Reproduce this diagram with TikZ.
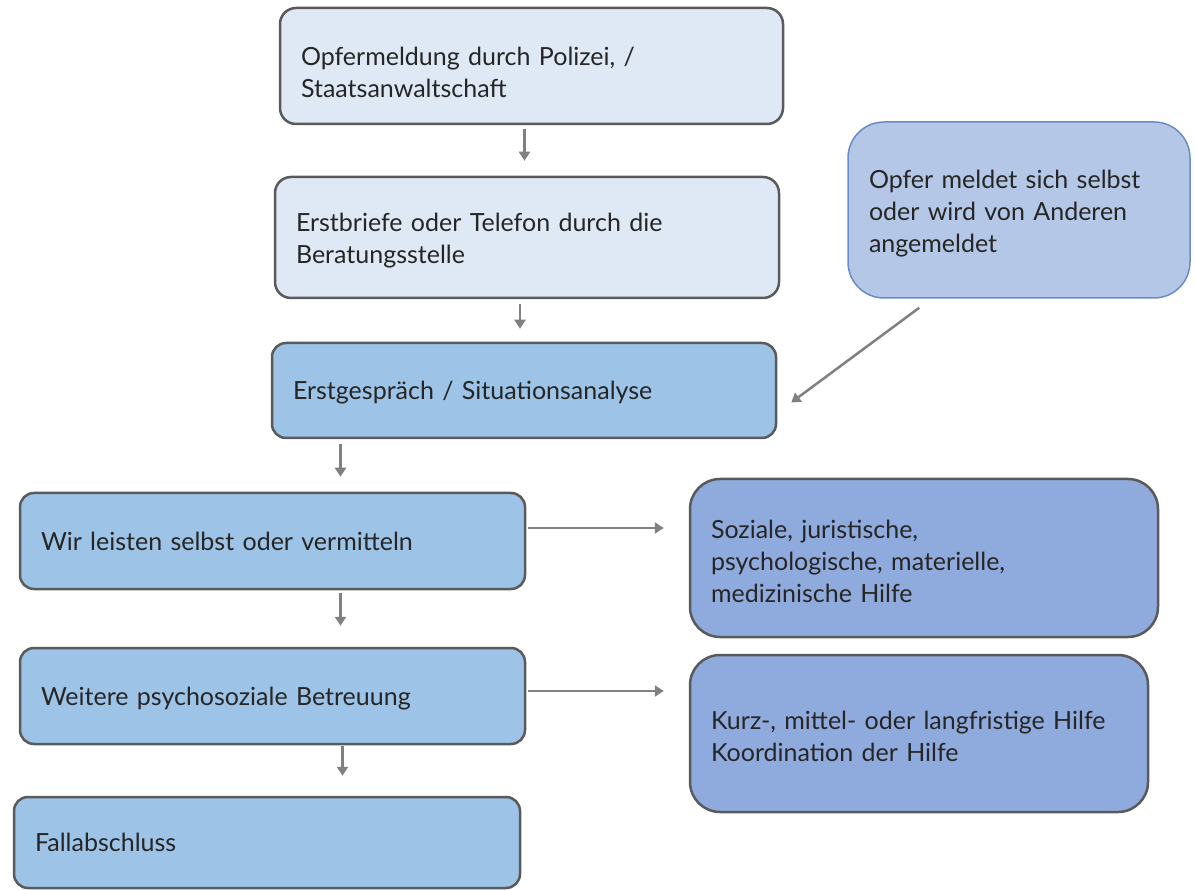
\documentclass[tikz,border=0pt]{standalone}
\usepackage{fontspec}
\setmainfont{Lato}
\usepackage{tikz}
\usetikzlibrary{arrows.meta,positioning}
\definecolor{boxpale}{HTML}{DEE9F5}
\definecolor{boxmid}{HTML}{9DC3E6}
\definecolor{boxnote}{HTML}{B4C7E7}
\definecolor{boxdeep}{HTML}{8FAADC}
\definecolor{noteline}{HTML}{6A8CC4}
\definecolor{rimgray}{HTML}{5A5A5A}
\definecolor{arrowgray}{HTML}{808080}
\tikzset{
    basic/.style  = {draw=rimgray, line width=2.5pt, rectangle, align=left,
                     inner xsep=21pt, inner ysep=0pt, text=black!85,
                     font=\fontsize{25}{32}\selectfont},
    pale step/.style = {basic, fill=boxpale, rounded corners=16pt},
    mid step/.style  = {basic, fill=boxmid, rounded corners=14pt},
    deep step/.style = {basic, fill=boxdeep, rounded corners=30pt},
    side note/.style = {basic, draw=noteline, line width=1.5pt, fill=boxnote, rounded corners=36pt},
    link/.style   = {draw=arrowgray, line width=2.5pt, -{Triangle[length=9pt,width=11pt]}}
}
\begin{document}
\begin{tikzpicture}[x=1pt,y=-1pt]
	\useasboundingbox (0,0) rectangle (1195,890);
		% left column
		\node[pale step, text width=461pt, minimum height=116pt, text depth=19pt] (meldung) at (531.5,66)
			{Opfermeldung durch Polizei, /\\Staatsanwaltschaft};
		\node[pale step, text width=462pt, minimum height=121pt, text depth=31pt] (erstbrief) at (527,237.5)
			{Erstbriefe oder Telefon durch die\\Beratungsstelle};
		\node[mid step, text width=462pt, minimum height=95pt, text depth=-3pt] (gespraech) at (524,390.5)
			{Erstgespräch / Situationsanalyse};
		\node[mid step, text width=463pt, minimum height=96pt, text depth=0pt] (leisten) at (272.5,541)
			{Wir leisten selbst oder vermitteln};
		\node[mid step, text width=463pt, minimum height=96pt, text depth=-3pt] (betreuung) at (272.5,696)
			{Weitere psychosoziale Betreuung};
		\node[mid step, text width=464pt, minimum height=91pt, text depth=-6pt] (abschluss) at (267,842.5)
			{Fallabschluss};
		% right column
		\node[side note, text width=300pt, minimum height=176pt, text depth=62pt] (selbst) at (1019,210)
			{Opfer meldet sich selbst\\oder wird von Anderen\\angemeldet};
		\node[deep step, text width=426pt, minimum height=158pt, text depth=58pt] (hilfe) at (924,558)
			{Soziale, juristische,\\psychologische, materielle,\\medizinische Hilfe};
		\node[deep step, text width=416pt, minimum height=157pt, text depth=26pt] (koord) at (919,733.5)
			{Kurz-, mittel- oder langfristige Hilfe\\Koordination der Hilfe};
		% connectors
		\draw[link, shorten <=4pt, shorten >=15pt] ([xshift=-7pt]meldung.south) -- ([xshift=-7pt]meldung.south |- erstbrief.north);
		\draw[link, shorten <=5pt, shorten >=13pt] ([xshift=-7pt]erstbrief.south) -- ([xshift=-7pt]erstbrief.south |- gespraech.north);
		\draw[link, shorten <=5pt, shorten >=15pt] ([xshift=68pt]leisten.north |- gespraech.south) -- ([xshift=68pt]leisten.north);
		\draw[link, shorten <=3pt, shorten >=21pt] ([xshift=68pt]leisten.south) -- ([xshift=68pt]betreuung.north);
		\draw[link, shorten <=1pt, shorten >=20pt] ([xshift=70pt]betreuung.south) -- ([xshift=70pt]betreuung.south |- abschluss.north);
		\draw[link, shorten <=2pt, shorten >=25pt] ([yshift=13pt]leisten.east) -- ([yshift=13pt]leisten.east -| hilfe.west);
		\draw[link, shorten <=2pt, shorten >=25pt] ([yshift=5pt]betreuung.east) -- ([yshift=5pt]betreuung.east -| koord.west);
		\draw[link] ([xshift=72pt,yshift=-9pt]selbst.south west) -- ([xshift=14pt,yshift=-12pt]gespraech.east);
	\end{tikzpicture}
\end{document}
